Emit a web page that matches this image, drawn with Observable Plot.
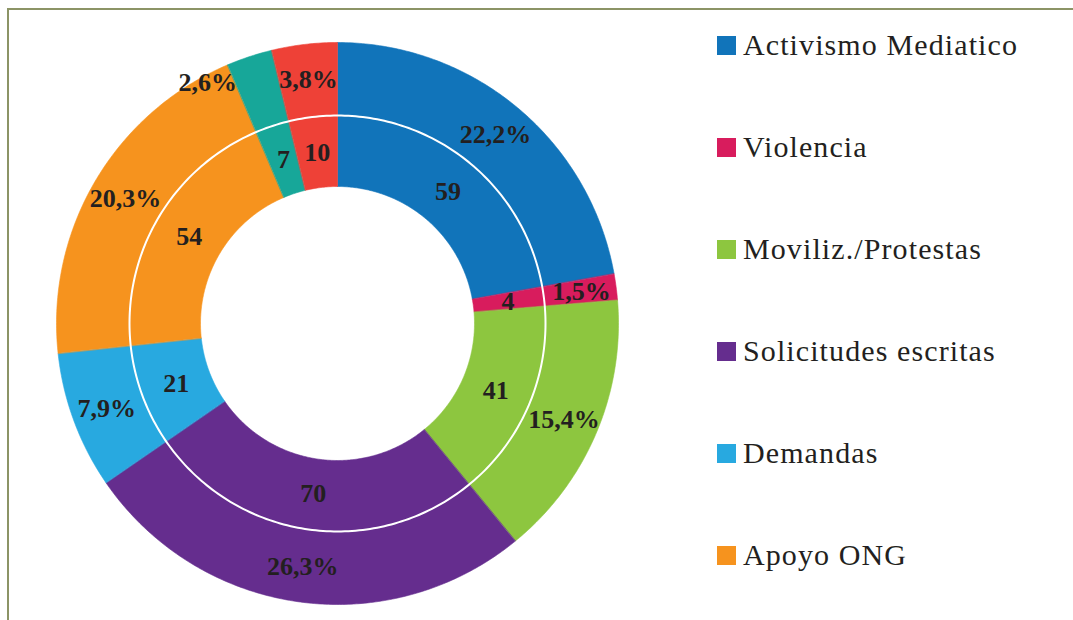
<!DOCTYPE html>
<html>
<head>
<meta charset="utf-8">
<script src="https://cdn.jsdelivr.net/npm/d3@7"></script>
<script src="https://cdn.jsdelivr.net/npm/@observablehq/plot@0.6"></script>
<style>
  html, body { margin: 0; padding: 0; background: #fff; }
  #wrap { position: relative; width: 1073px; height: 620px; overflow: hidden; }
  #frame { position: absolute; left: 7px; top: 8px; width: 1100px; height: 700px;
           border-left: 2px solid #8c9466; border-top: 2px solid #8c9466; box-sizing: border-box; }
  #chart { position: absolute; left: 0; top: 0; }
  .leg { position: absolute; left: 717px; height: 30px; display: flex; align-items: center;
         font-family: "Liberation Serif", "DejaVu Serif", serif; font-size: 30px; letter-spacing: 1.1px; color: #231f20; white-space: nowrap; }
  .leg .sw { width: 19px; height: 19px; margin-right: 7px; flex: none; }
</style>
</head>
<body>
<div id="wrap">
  <div id="frame"></div>
  <div id="chart"></div>
</div>
<script>
// ---- data ----
const categories = ["Activismo Mediatico", "Violencia", "Moviliz./Protestas", "Solicitudes escritas", "Demandas", "Apoyo ONG", "Otros (a)", "Otros (b)"];
const counts = [59, 4, 41, 70, 21, 54, 7, 10];
const colors = ["#1174ba", "#d81c5d", "#8dc63f", "#652d8e", "#28a9e0", "#f6931e", "#17a799", "#ee4137"];
const legendCategories = ["Activismo Mediatico", "Violencia", "Moviliz./Protestas", "Solicitudes escritas", "Demandas", "Apoyo ONG"];

// ---- geometry (layout) ----
const W = 1073, H = 620;
const cx = 337, cy = 323;          // donut center in pixels
const R_OUT = 281, R_IN = 137, R_MID = 208;
const R_LAB_IN = 172, R_LAB_OUT = 246;

const total = d3.sum(counts);
const slices = [];
let cum = 0;
categories.forEach((c, i) => {
  const a0 = cum / total * 2 * Math.PI;
  cum += counts[i];
  const a1 = cum / total * 2 * Math.PI;
  slices.push({category: c, value: counts[i], a0, a1, i});
});

const pt = (r, a) => ({x: r * Math.sin(a), y: r * Math.cos(a)});

// polygon points of each annular sector
const arcPts = [];
for (const s of slices) {
  const n = Math.max(4, Math.ceil((s.a1 - s.a0) / 0.01));
  for (let k = 0; k <= n; k++) {
    const a = s.a0 + (s.a1 - s.a0) * k / n;
    arcPts.push({category: s.category, ...pt(R_OUT, a)});
  }
  for (let k = n; k >= 0; k--) {
    const a = s.a0 + (s.a1 - s.a0) * k / n;
    arcPts.push({category: s.category, ...pt(R_IN, a)});
  }
}

// white separator circle
const ring = d3.range(0, 361).map(d => pt(R_MID, d / 180 * Math.PI));

const fmtPct = v => (v / total * 100).toFixed(1).replace(".", ",") + "%";

const innerLabels = slices.map(s => ({...pt(R_LAB_IN, (s.a0 + s.a1) / 2), text: String(s.value)}));
const outerLabels = slices.filter(s => s.category !== "Otros (a)")
  .map(s => ({...pt(R_LAB_OUT, (s.a0 + s.a1) / 2), text: fmtPct(s.value)}));
// narrow slice: label placed just outside, to the left of the slice start
const nudged = slices.filter(s => s.category === "Otros (a)")
  .map(s => ({...pt(R_LAB_OUT + 16, s.a0), text: fmtPct(s.value)}));

const font = '"Liberation Serif", "DejaVu Serif", serif';
const labStyle = {fontSize: 26, fontWeight: "bold", fill: "#231f20", fontFamily: font};

const plot = Plot.plot({
  width: W, height: H,
  margin: 0,
  x: {domain: [-cx, W - cx], axis: null},
  y: {domain: [-(H - cy), cy], axis: null},
  color: {domain: categories, range: colors},
  style: {background: "transparent", overflow: "visible"},
  marks: [
    Plot.line(arcPts, {x: "x", y: "y", z: "category", fill: "category", stroke: "category", strokeWidth: 0.6, curve: "linear-closed"}),
    Plot.line(ring, {x: "x", y: "y", stroke: "white", strokeWidth: 2, curve: "linear-closed"}),
    Plot.text(innerLabels, {x: "x", y: "y", text: "text", ...labStyle}),
    Plot.text(outerLabels, {x: "x", y: "y", text: "text", ...labStyle}),
    Plot.text(nudged, {x: "x", y: "y", text: "text", textAnchor: "end", dx: 2, ...labStyle})
  ]
});
document.getElementById("chart").appendChild(plot);

// legend (first six categories, like the reference)
const wrap = document.getElementById("wrap");
legendCategories.forEach((c, i) => {
  const row = document.createElement("div");
  row.className = "leg";
  row.style.top = (45 + 102 * i - 15) + "px";
  const sw = document.createElement("div");
  sw.className = "sw";
  sw.style.background = colors[categories.indexOf(c)];
  const tx = document.createElement("span");
  tx.textContent = c;
  row.appendChild(sw);
  row.appendChild(tx);
  wrap.appendChild(row);
});
</script>
</body>
</html>
